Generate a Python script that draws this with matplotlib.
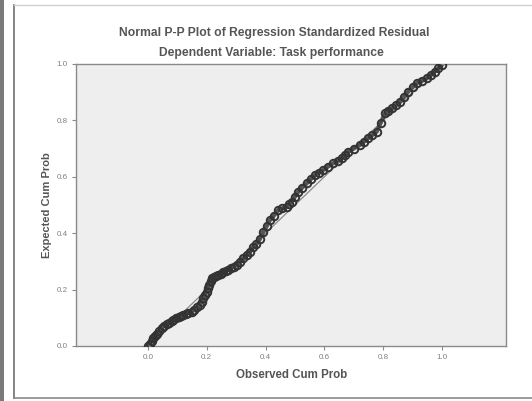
import matplotlib
matplotlib.use("Agg")
import matplotlib.pyplot as plt
from matplotlib.lines import Line2D
from matplotlib.patches import Rectangle

title_line1 = "Normal P-P Plot of Regression Standardized Residual"
title_line2 = "Dependent Variable: Task performance"
x_label = "Observed Cum Prob"
y_label = "Expected Cum Prob"
tick_values = [0.0, 0.2, 0.4, 0.6, 0.8, 1.0]
tick_labels = ["0.0", "0.2", "0.4", "0.6", "0.8", "1.0"]

observed = [0.000, 0.006, 0.012, 0.018, 0.024, 0.030, 0.038, 0.047, 0.055, 0.063,
            0.072, 0.080, 0.086, 0.095, 0.104, 0.112, 0.120, 0.128, 0.137, 0.149,
            0.158, 0.168, 0.177, 0.183, 0.188, 0.194, 0.200, 0.205, 0.209, 0.213,
            0.217, 0.224, 0.231, 0.239, 0.248, 0.256, 0.265, 0.273, 0.282, 0.292,
            0.302, 0.313, 0.324, 0.336, 0.347, 0.358, 0.368, 0.380, 0.392, 0.404,
            0.415, 0.428, 0.443, 0.457, 0.472, 0.480, 0.489, 0.500, 0.511, 0.525,
            0.540, 0.554, 0.568, 0.582, 0.596, 0.612, 0.630, 0.645, 0.659, 0.670,
            0.681, 0.700, 0.721, 0.735, 0.749, 0.763, 0.778, 0.792, 0.806, 0.818,
            0.829, 0.843, 0.857, 0.871, 0.885, 0.900, 0.914, 0.931, 0.948, 0.962,
            0.976, 0.988, 0.999]
expected = [0.000, 0.008, 0.016, 0.027, 0.035, 0.042, 0.052, 0.063, 0.072, 0.078,
            0.083, 0.088, 0.092, 0.098, 0.103, 0.107, 0.110, 0.114, 0.118, 0.122,
            0.128, 0.137, 0.145, 0.157, 0.169, 0.181, 0.193, 0.205, 0.218, 0.230,
            0.240, 0.246, 0.250, 0.252, 0.257, 0.262, 0.266, 0.270, 0.275, 0.281,
            0.287, 0.298, 0.311, 0.322, 0.334, 0.350, 0.360, 0.378, 0.405, 0.425,
            0.447, 0.462, 0.482, 0.488, 0.494, 0.502, 0.512, 0.530, 0.547, 0.562,
            0.577, 0.592, 0.606, 0.615, 0.624, 0.636, 0.648, 0.657, 0.666, 0.678,
            0.689, 0.700, 0.713, 0.725, 0.737, 0.748, 0.760, 0.792, 0.825, 0.834,
            0.843, 0.854, 0.866, 0.884, 0.902, 0.917, 0.932, 0.941, 0.949, 0.961,
            0.973, 0.985, 0.996]
ref_line = [0.0, 1.0]

plt.rcParams['font.family'] = ['Liberation Sans', 'DejaVu Sans']

W, H = 532, 401
fig = plt.figure(figsize=(W / 100, H / 100), dpi=100)
fig.patch.set_facecolor("white")

# outer frame decorations
fig.add_artist(Rectangle((0, 0), 4 / W, 1, transform=fig.transFigure,
                         facecolor="#7a7a7a", edgecolor="none"))
fig.add_artist(Line2D([13.5 / W, 13.5 / W], [1 - 5 / H, 1 - 398 / H],
                      transform=fig.transFigure, color="#6e6e6e", lw=1.2))
fig.add_artist(Line2D([13.5 / W, 1], [1 - 5 / H, 1 - 5 / H],
                      transform=fig.transFigure, color="#d0d0d0", lw=1.0))
fig.add_artist(Line2D([13.5 / W, 1], [1 - 398 / H, 1 - 398 / H],
                      transform=fig.transFigure, color="#8a8a8a", lw=1.2))

ax = fig.add_axes([76 / W, 1 - 346 / H, (506 - 76) / W, (346 - 64) / H])
ax.set_facecolor("#eeeeee")
ax.set_xlim(-0.245, 1.218)
ax.set_ylim(0, 1)

ax.plot(ref_line, ref_line, color="#8c8c8c", lw=0.9, zorder=2)
ax.plot(observed, expected, color="#3a3a3a", lw=3.0, alpha=0.85, zorder=2.5)
ax.plot(observed, expected, linestyle="none", marker="o", markersize=5.4,
        markerfacecolor="none", markeredgecolor="#333333", markeredgewidth=1.4,
        zorder=3)

for s in ax.spines.values():
    s.set_color("#8a8a8a")
    s.set_linewidth(1.0)

ax.set_xticks(tick_values)
ax.set_xticklabels(tick_labels)
ax.set_yticks(tick_values)
ax.set_yticklabels(tick_labels)
ax.tick_params(axis="both", direction="out", length=3, width=0.8,
               color="#8a8a8a", labelsize=5.8, labelcolor="#808080", pad=3)

fig.text(274 / W, 1 - 33 / H, title_line1, ha="center", va="center",
         fontsize=8.7, fontweight="bold", color="#555555")
fig.text(271 / W, 1 - 53 / H, title_line2, ha="center", va="center",
         fontsize=8.7, fontweight="bold", color="#555555")
fig.text(292 / W, 1 - 375 / H, x_label, ha="center", va="center",
         fontsize=8.3, fontweight="bold", color="#555555")
fig.text(47 / W, 1 - 205 / H, y_label, ha="center", va="center", rotation=90,
         fontsize=8.0, fontweight="bold", color="#555555")

fig.savefig("out.png", dpi=100)
